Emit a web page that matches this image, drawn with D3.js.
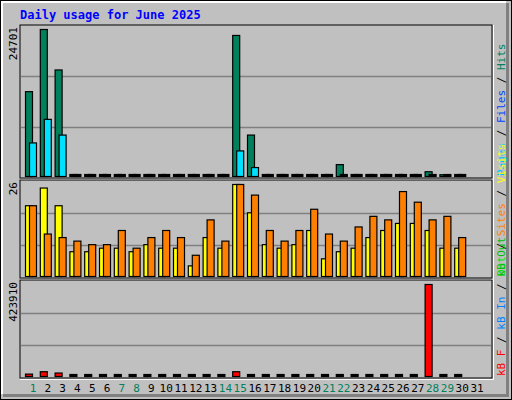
<!DOCTYPE html>
<html><head><meta charset="utf-8">
<script src="https://cdn.jsdelivr.net/npm/d3@7"></script>
<style>body{margin:0;background:#fff}svg{display:block}text{font-family:"DejaVu Sans Mono",monospace}</style>
</head><body><svg id="chart" width="512" height="400"></svg>
<script>
const days = d3.range(1, 32);
const weekend = [1, 7, 8, 14, 15, 21, 22, 28, 29];
// 0 = no data after day 30
const hits  = [14260,24701,17900,0,0,0,0,0,0,0,0,0,0,0,23700,6960,0,0,0,0,0,2000,0,0,0,0,0,800,300,0,null];
const files = [5640,9600,6960,0,0,0,0,0,0,0,0,0,0,0,4300,1500,0,0,0,0,0,0,0,0,0,0,0,0,0,0,null];
const visits = [20,25,20,7,7,8,8,7,9,8,8,3,11,8,26,18,9,8,9,13,5,7,8,11,13,15,15,13,8,8,null];
const sites  = [20,12,11,10,9,9,13,8,11,13,11,6,16,10,26,23,13,10,13,19,12,10,14,17,16,24,21,16,17,11,null];
const kbF = [11000,22000,16000,0,0,0,0,0,0,0,0,0,0,0,22000,0,0,0,0,0,0,0,0,0,0,0,0,423910,0,0,null];

const svg = d3.select("#chart");
const W = 512, H = 400, L = 20, R = 492;

svg.append("rect").attr("width", W).attr("height", H).attr("fill", "#c0c0c0");
svg.append("rect").attr("x", 0.5).attr("y", 0.5).attr("width", W - 1).attr("height", H - 1)
  .attr("fill", "none").attr("stroke", "#000");
svg.append("path").attr("d", `M${W - 4.5},3V${H - 4.5}H3`).attr("fill", "none").attr("stroke", "#808080").attr("stroke-width", 3);
svg.append("path").attr("d", `M2,${H - 6}V2H${W - 6}`).attr("fill", "none").attr("stroke", "#fff").attr("stroke-width", 2);

svg.append("text").attr("x", 20).attr("y", 19).attr("fill", "#0000ff")
  .attr("font-size", 12).attr("font-weight", "bold").text("Daily usage for June 2025");

const x = d3.scaleLinear().domain([1, 31]).range([25, 469]);

function panel(y0, y1, max, series, label, legend) {
  const y = d3.scaleLinear().domain([0, max]).range([y1 - 2, y0 + 4]);
  svg.append("rect").attr("x", L).attr("y", y0).attr("width", R - L).attr("height", y1 - y0)
    .attr("fill", "#c0c0c0").attr("stroke", "#000");
  svg.append("path").attr("d", `M${L},${y1 + 1.5}H${R + 1.5}V${y0}`).attr("fill", "none").attr("stroke", "#fff");
  const g = d3.scaleLinear().domain([0, 3]).range([y1 - 2, y0 + 4]);
  [1, 2].forEach(k => {
    const gy = Math.round(y1 - (y1 - y0) * k / 3) + 0.5;
    svg.append("line").attr("x1", L + 1).attr("x2", R - 1).attr("y1", gy).attr("y2", gy)
      .attr("stroke", "#808080").attr("stroke-width", 1.5);
  });
  series.forEach(s => {
    svg.append("g").selectAll("rect")
      .data(days.map((d, i) => ({ d, v: s.vals[i] })).filter(o => o.v !== null))
      .join("rect")
      .attr("x", o => x(o.d) + s.off + 0.5)
      .attr("width", 7)
      .attr("y", o => o.v === 0 ? y1 - 3.5 : y(o.v) + 0.5)
      .attr("height", o => o.v === 0 ? 2 : y(0) - y(o.v))
      .attr("fill", o => o.v === 0 ? "#000" : s.color)
      .attr("stroke", "#000").attr("stroke-width", 1.2);
  });
  svg.append("text").attr("transform", `translate(${L - 3},${y0 + 2}) rotate(-90)`)
    .attr("text-anchor", "end").attr("font-size", 11).attr("fill", "#000").text(label);
  const t = svg.append("text").attr("transform", `translate(${R + 13},${y1 - 2}) rotate(-90)`)
    .attr("font-size", 11);
  legend.forEach((p, i) => {
    if (i) t.append("tspan").attr("fill", "#000").text(" / ");
    t.append("tspan").attr("fill", p[1]).text(p[0]);
  });
}

panel(25, 178, 24701, [
  { vals: hits, off: 0, color: "#00805c" },
  { vals: files, off: 4, color: "#00e0ff" }
], "24701", [["Pages", "#00c0ff"], ["Files", "#0040ff"], ["Hits", "#00805c"]]);

panel(180, 278, 26, [
  { vals: visits, off: 0, color: "#ffff00" },
  { vals: sites, off: 4, color: "#ff8000" }
], "26", [["Out", "#00e000"], ["Sites", "#ff8000"], ["Visits", "#ffff00"]]);

panel(280, 378, 423910, [
  { vals: kbF, off: 0, color: "#ff0000" }
], "423910", [["kB F", "#ff0000"], ["kB In", "#0080ff"], ["kB Out", "#00c000"]]);

svg.append("g").selectAll("text").data(days).join("text")
  .attr("x", d => x(d) + 8).attr("y", 392).attr("text-anchor", "middle")
  .attr("font-size", 11)
  .attr("fill", d => weekend.includes(d) ? "#00805c" : "#000")
  .text(d => d);
</script></body></html>
